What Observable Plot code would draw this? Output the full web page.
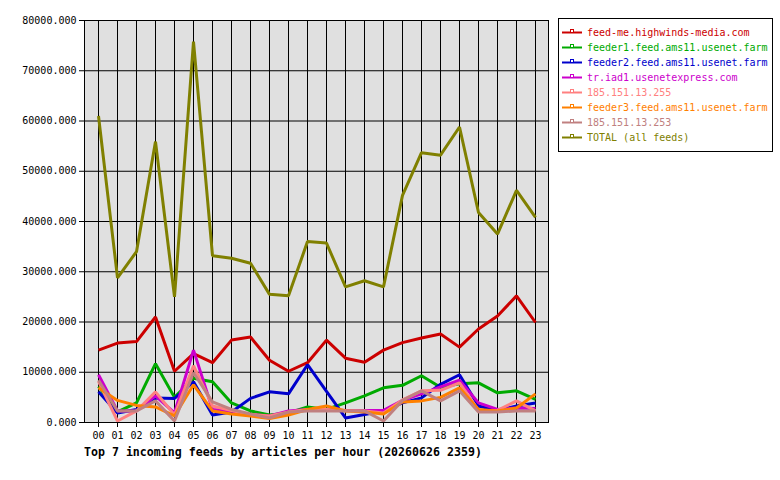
<!DOCTYPE html>
<html>
<head>
<meta charset="utf-8">
<script src="https://cdn.jsdelivr.net/npm/d3@7"></script>
<script src="https://cdn.jsdelivr.net/npm/@observablehq/plot@0.6"></script>
<style>
  html, body { margin: 0; padding: 0; background: #ffffff; }
  #wrap { position: relative; width: 780px; height: 480px; font-family: "DejaVu Sans Mono", monospace; }
  #chart { position: absolute; left: 0; top: 0; }
  #legend { position: absolute; left: 558px; top: 18px; width: 213px; height: 132px; border: 1px solid #000; background: #fff; box-sizing: content-box; }
  .entry { position: absolute; left: 0; height: 15px; display: flex; align-items: center; font-size: 10px; white-space: nowrap; }
  .entry svg { display: block; margin-left: 3px; margin-right: 4px; }
  #title { position: absolute; left: 84px; top: 445px; font-size: 11.6px; font-weight: bold; color: #000; white-space: nowrap; }
</style>
</head>
<body>
<div id="wrap">
  <div id="chart"></div>
  <div id="legend"></div>
  <div id="title"></div>
</div>
<script>
const hours = ["00","01","02","03","04","05","06","07","08","09","10","11","12","13","14","15","16","17","18","19","20","21","22","23"];
const yTicks = [0, 10000, 20000, 30000, 40000, 50000, 60000, 70000, 80000];
const feedNames = ["feed-me.highwinds-media.com","feeder1.feed.ams11.usenet.farm","feeder2.feed.ams11.usenet.farm","tr.iad1.usenetexpress.com","185.151.13.255","feeder3.feed.ams11.usenet.farm","185.151.13.253","TOTAL (all feeds)"];
const feedColors = ["#cc0000","#00aa00","#0000cc","#cc00cc","#ff8080","#ff8000","#c08080","#808000"];
const titleText = "Top 7 incoming feeds by articles per hour (20260626 2359)";

const feedMe   = [14400,15800,16100,21000,10200,13700,11900,16400,17000,12400,10200,11900,16400,12800,12000,14400,15900,16800,17600,15000,18600,21200,25200,19900];
const feeder1  = [7200,2100,3900,11700,5000,8800,8100,3900,2300,1500,1900,3100,2600,3900,5300,6900,7400,9300,7000,7700,7900,5900,6300,4600];
const feeder2  = [6100,1900,2600,4900,4800,8100,1500,2100,4800,6100,5700,11500,6200,900,1600,2300,3900,4900,7600,9500,3300,2400,3300,3900];
const trIad1   = [9500,2300,2300,5300,1900,14400,2600,2300,1600,1300,2300,2600,2600,2400,2400,2400,4400,5700,7100,8400,3900,2600,2900,2800];
const ip255    = [8200,300,2300,6100,1500,11300,3300,2400,1600,1300,2100,2600,2600,2400,2300,1900,4500,6300,6400,7900,2400,2400,4300,2300];
const feeder3  = [6900,4400,3400,3100,1300,7500,2300,1700,1300,800,1500,2600,3300,2300,2100,1700,4100,4300,5000,6900,2600,2300,2900,5700];
const ip253    = [8400,2300,2300,4300,300,9900,4100,2600,1700,900,2100,2300,2300,2300,2300,300,4400,6300,4300,6300,2100,2100,2300,2300];
const total    = [61000,28800,34000,55900,25000,75800,33200,32700,31700,25500,25200,36000,35700,27000,28200,27000,45200,53700,53200,58800,41800,37500,46200,40800];

const seriesValues = [feedMe, feeder1, feeder2, trIad1, ip255, feeder3, ip253, total];

const rows = feedNames.flatMap((name, i) =>
  seriesValues[i].map((v, j) => ({ hour: hours[j], value: v, feed: name }))
);

const chart = Plot.plot({
  width: 780,
  height: 480,
  marginLeft: 84,
  marginRight: 232,
  marginTop: 20,
  marginBottom: 58,
  style: { fontFamily: "DejaVu Sans Mono, monospace", fontSize: "10px", color: "#000", background: "transparent" },
  x: { type: "point", domain: hours, padding: 0.5, label: null },
  y: { domain: [0, 80000], label: null },
  color: { domain: feedNames, range: feedColors },
  marks: [
    Plot.frame({ fill: "#e0e0e0", stroke: null }),
    Plot.gridX({ stroke: "#000", strokeOpacity: 1, strokeWidth: 1 }),
    Plot.gridY(yTicks, { stroke: "#000", strokeOpacity: 1, strokeWidth: 1 }),
    Plot.lineY(rows, { x: "hour", y: "value", z: "feed", stroke: "feed", strokeWidth: 3, strokeLinejoin: "miter", strokeLinecap: "butt" }),
    Plot.frame({ stroke: "#000", strokeWidth: 1 }),
    Plot.axisX({ tickSize: 5, tickPadding: 4, fill: "#000", stroke: "#000", label: null }),
    Plot.axisY(yTicks, { tickSize: 5, tickPadding: 3, tickFormat: d => d.toFixed(3), fill: "#000", stroke: "#000", label: null })
  ]
});
document.getElementById("chart").appendChild(chart);

const legend = document.getElementById("legend");
feedNames.forEach((name, i) => {
  const e = document.createElement("div");
  e.className = "entry";
  e.style.top = (6 + i * 15) + "px";
  e.style.color = feedColors[i];
  e.innerHTML = `<svg width="21" height="15"><line x1="0" x2="20" y1="7.5" y2="7.5" stroke="${feedColors[i]}" stroke-width="2"/><rect x="8.5" y="4.5" width="3" height="3" fill="#fff" stroke="${feedColors[i]}" stroke-width="1"/></svg><span>${name}</span>`;
  legend.appendChild(e);
});
document.getElementById("title").textContent = titleText;
</script>
</body>
</html>
